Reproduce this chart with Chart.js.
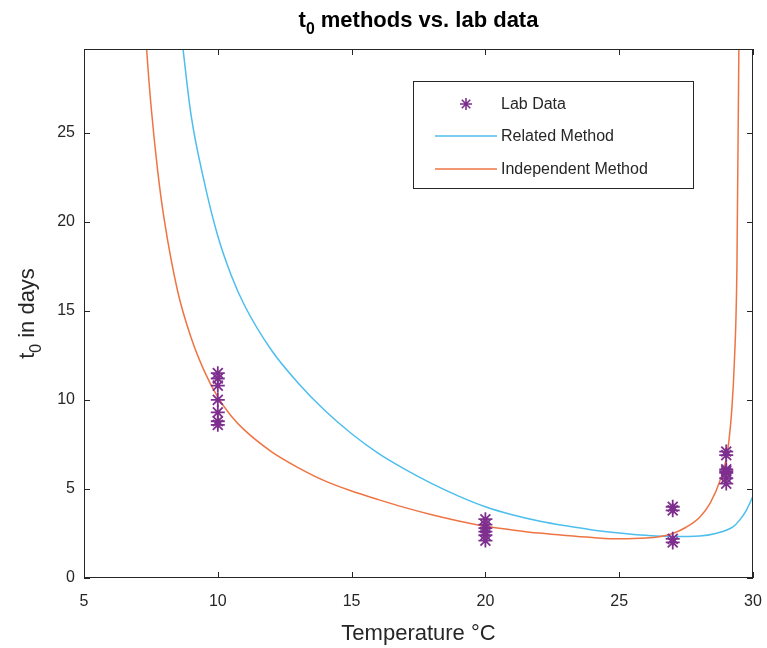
<!DOCTYPE html>
<html>
<head>
<meta charset="utf-8">
<script src="https://cdn.jsdelivr.net/npm/chart.js@4.4.1/dist/chart.umd.min.js"></script>
<style>
  html, body { margin: 0; padding: 0; background: #ffffff; }
  canvas { display: block; }
</style>
</head>
<body>
<canvas id="c" width="767" height="648"></canvas>
<script>
// ---- data ----
const labTemp = [10, 10, 10, 10, 10, 10, 10, 20, 20, 20, 20, 20, 20, 27, 27, 27, 27, 29, 29, 29, 29, 29, 29, 29];
const labT0   = [11.5, 11.2, 10.8, 10.0, 9.3, 8.8, 8.6, 3.3, 3.0, 2.8, 2.6, 2.4, 2.1, 4.0, 3.8, 2.2, 2.0, 7.1, 6.9, 6.1, 6.0, 5.9, 5.6, 5.3];

const relTemp = [8.6, 8.7, 9, 9.5, 10, 10.5, 11, 12, 13, 14, 15, 16, 17, 18, 19, 20, 21, 22, 23, 24, 25, 26, 27, 28, 28.6, 29.25, 29.5, 29.75, 30];
const relT0   = [31.0, 29.7, 26.0, 22.2, 19.2, 17.0, 15.3, 12.8, 10.95, 9.4, 8.1, 7.0, 6.1, 5.3, 4.6, 4.0, 3.55, 3.2, 2.93, 2.7, 2.53, 2.4, 2.33, 2.36, 2.5, 2.87, 3.25, 3.8, 4.6];

const indTemp = [7.2, 7.34, 7.5, 7.75, 8, 8.5, 9, 9.5, 10, 10.5, 11, 12, 13, 14, 15, 16, 17, 18, 19, 20, 21, 22, 23, 24, 25, 26, 26.5, 27, 27.5, 28, 28.4, 28.8, 29, 29.1, 29.2, 29.3, 29.4, 29.5];
const indT0   = [33.1, 29.7, 26.6, 22.9, 20.1, 16.1, 13.5, 11.6, 10.15, 9.1, 8.3, 7.1, 6.2, 5.45, 4.88, 4.4, 3.95, 3.55, 3.2, 2.9, 2.7, 2.52, 2.38, 2.27, 2.2, 2.24, 2.32, 2.5, 2.85, 3.4, 4.2, 5.6, 6.7, 7.7, 9.3, 12, 17.5, 35];

const xTicks = [5, 10, 15, 20, 25, 30];
const yTicks = [0, 5, 10, 15, 20, 25];
const seriesNames = ['Lab Data', 'Related Method', 'Independent Method'];

const xMin = 5, xMax = 30, yMin = 0, yMax = 29.7;

const FONT = "'Liberation Sans', Arial, Helvetica, sans-serif";
const TEXT = '#262626';
const AXIS = '#262626';
const PURPLE = '#7E2F8E';
const BLUE = '#4DBEEE';
const ORANGE = '#EE7444';

function pts(xs, ys) { return xs.map((x, i) => ({ x: x, y: ys[i] })); }

function richWidth(ctx, parts, size, weight) {
  let w = 0;
  for (const p of parts) {
    ctx.font = weight + ' ' + (p.sub ? size * 0.72 : size) + 'px ' + FONT;
    w += ctx.measureText(p.t).width;
  }
  return w;
}
function drawRich(ctx, parts, cx, y, size, weight) {
  const w = richWidth(ctx, parts, size, weight);
  let x = cx - w / 2;
  ctx.textAlign = 'left';
  ctx.textBaseline = 'alphabetic';
  for (const p of parts) {
    ctx.font = weight + ' ' + (p.sub ? size * 0.72 : size) + 'px ' + FONT;
    ctx.fillText(p.t, x, p.sub ? y + size * 0.3 : y);
    x += ctx.measureText(p.t).width;
  }
}

function drawStar(ctx, x, y, r) {
  ctx.beginPath();
  ctx.moveTo(x - r, y); ctx.lineTo(x + r, y);
  ctx.moveTo(x, y - r); ctx.lineTo(x, y + r);
  const d = r * Math.SQRT1_2;
  ctx.moveTo(x - d, y - d); ctx.lineTo(x + d, y + d);
  ctx.moveTo(x - d, y + d); ctx.lineTo(x + d, y - d);
  ctx.stroke();
}

const decorations = {
  id: 'decorations',
  afterDraw(chart) {
    const ctx = chart.ctx;
    const a = chart.chartArea;
    const xs = chart.scales.x, ys = chart.scales.y;
    ctx.save();
    ctx.strokeStyle = AXIS;
    ctx.lineWidth = 1;
    ctx.strokeRect(Math.round(a.left) + 0.5, Math.round(a.top) + 0.5, Math.round(a.right - a.left) - 1, Math.round(a.bottom - a.top) - 1);
    const tl = 6;
    ctx.beginPath();
    for (const v of xTicks) {
      const px = Math.round(xs.getPixelForValue(v)) + 0.5;
      ctx.moveTo(px, a.bottom); ctx.lineTo(px, a.bottom - tl);
      ctx.moveTo(px, a.top); ctx.lineTo(px, a.top + tl);
    }
    for (const v of yTicks) {
      const py = Math.round(ys.getPixelForValue(v)) + 0.5;
      ctx.moveTo(a.left, py); ctx.lineTo(a.left + tl, py);
      ctx.moveTo(a.right, py); ctx.lineTo(a.right - tl, py);
    }
    ctx.stroke();

    // title
    ctx.fillStyle = '#000000';
    drawRich(ctx, [{ t: 't' }, { t: '0', sub: true }, { t: ' methods vs. lab data' }], (a.left + a.right) / 2, 27, 22, 'bold');

    // x title
    ctx.fillStyle = TEXT;
    drawRich(ctx, [{ t: 'Temperature °C' }], (a.left + a.right) / 2, 640, 22, 'normal');

    // y title (rotated)
    ctx.save();
    ctx.translate(34, (a.top + a.bottom) / 2);
    ctx.rotate(-Math.PI / 2);
    drawRich(ctx, [{ t: 't' }, { t: '0', sub: true }, { t: ' in days' }], 0, 0, 22, 'normal');
    ctx.restore();

    // legend
    const lx = 413, ly = 81, lw = 280, lh = 107;
    ctx.fillStyle = '#ffffff';
    ctx.fillRect(lx, ly, lw, lh);
    ctx.strokeStyle = AXIS;
    ctx.lineWidth = 1;
    ctx.strokeRect(lx + 0.5, ly + 0.5, lw, lh);
    const rows = [104, 136, 169];
    ctx.font = '16px ' + FONT;
    ctx.textAlign = 'left';
    ctx.textBaseline = 'middle';
    chart.data.datasets.forEach((ds, i) => {
      const y = rows[i];
      ctx.strokeStyle = ds.borderColor;
      if (i === 0) {
        ctx.lineWidth = 1.6;
        drawStar(ctx, 466, y, 6);
      } else {
        ctx.lineWidth = 1.5;
        ctx.beginPath();
        ctx.moveTo(435, y); ctx.lineTo(497, y);
        ctx.stroke();
      }
      ctx.fillStyle = TEXT;
      ctx.fillText(ds.label, 501, y + 1);
    });
    ctx.restore();
  }
};

new Chart(document.getElementById('c'), {
  type: 'scatter',
  data: {
    datasets: [
      {
        label: seriesNames[0],
        data: pts(labTemp, labT0),
        showLine: false,
        pointStyle: 'star',
        pointRadius: 7,
        pointBorderWidth: 1.8,
        borderColor: PURPLE,
        backgroundColor: PURPLE,
        order: 0
      },
      {
        label: seriesNames[1],
        data: pts(relTemp, relT0),
        showLine: true,
        borderColor: BLUE,
        backgroundColor: BLUE,
        borderWidth: 1.5,
        pointRadius: 0,
        cubicInterpolationMode: 'monotone',
        order: 2
      },
      {
        label: seriesNames[2],
        data: pts(indTemp, indT0),
        showLine: true,
        borderColor: ORANGE,
        backgroundColor: ORANGE,
        borderWidth: 1.5,
        pointRadius: 0,
        cubicInterpolationMode: 'monotone',
        order: 1
      }
    ]
  },
  options: {
    responsive: false,
    animation: false,
    devicePixelRatio: 1,
    layout: { padding: { top: 49, right: 14, left: 0, bottom: 0 } },
    plugins: {
      legend: { display: false },
      title: { display: false },
      tooltip: { enabled: false }
    },
    scales: {
      x: {
        type: 'linear',
        min: xMin, max: xMax,
        grid: { display: false, drawTicks: false },
        border: { display: false },
        afterBuildTicks(scale) { scale.ticks = xTicks.map(v => ({ value: v })); },
        afterFit(scale) { scale.height = 70; scale.paddingLeft = 0; scale.paddingRight = 0; },
        ticks: {
          color: TEXT,
          padding: 14,
          font: { family: FONT, size: 16 },
          maxRotation: 0
        }
      },
      y: {
        type: 'linear',
        min: yMin, max: yMax,
        grid: { display: false, drawTicks: false },
        border: { display: false },
        afterBuildTicks(scale) { scale.ticks = yTicks.map(v => ({ value: v })); },
        afterFit(scale) { scale.width = 84; scale.paddingTop = 0; scale.paddingBottom = 0; },
        ticks: {
          color: TEXT,
          padding: 9,
          font: { family: FONT, size: 16 }
        }
      }
    }
  },
  plugins: [decorations]
});
</script>
</body>
</html>
